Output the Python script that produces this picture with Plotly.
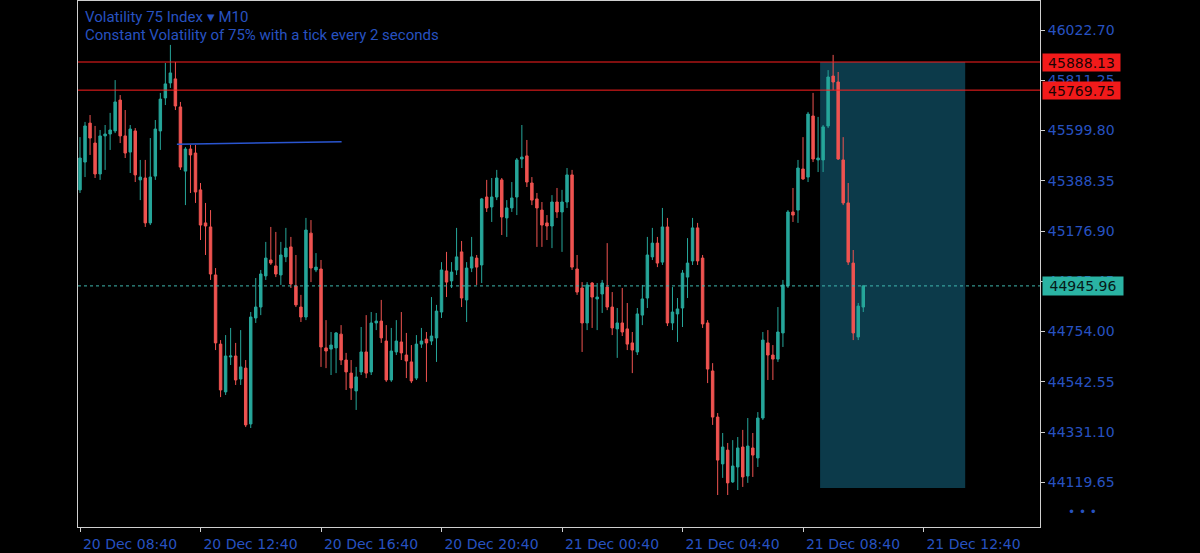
import pandas as pd
import plotly.graph_objects as go

START = "2023-12-20 08:40"

opens = [
    45350, 45467, 45631, 45547, 45417, 45577, 45585, 45598, 45728, 45577,
    45509, 45598, 45392, 45400, 45211, 45408, 45598, 45737, 45800, 45817,
    45699, 45429, 45522, 45505, 45350, 45211, 45194, 44992, 44701, 44500,
    44647, 44651, 44554, 44600, 44365, 44811, 44857, 44988, 45055, 45030,
    44992, 45068, 45110, 44946, 44857, 44815, 45168, 45013, 45017, 44685,
    44680, 44685, 44743, 44634, 44579, 44504, 44584, 44668, 44584, 44790,
    44798, 44714, 44550, 44668, 44710, 44655, 44626, 44558, 44701, 44722,
    44714, 44727, 44836, 45009, 44967, 45013, 45089, 44887, 45021, 45063,
    45034, 45320, 45278, 45320, 45392, 45232, 45274, 45320, 45480, 45493,
    45379, 45312, 45265, 45211, 45198, 45299, 45257, 45299, 45413, 45017,
    44937, 44790, 44958, 44891, 44912, 44941, 44857, 44765, 44790, 44765,
    44706, 44668, 44823, 44895, 45068, 45126, 45046, 45194, 44790, 44828,
    44853, 44983, 45051, 45190, 45063, 44790, 44588, 44394, 44197, 44255,
    44121, 44184, 44268, 44146, 44264, 44222, 44390, 44706, 44655, 44638,
    44748, 44946, 45257, 45265, 45438, 45404, 45661, 45476, 45476, 45619,
    45829, 45804, 45476, 45295, 45042, 44731, 44857,
]
closes = [
    45484, 45619, 45568, 45417, 45577, 45585, 45602, 45720, 45577, 45505,
    45606, 45413, 45404, 45211, 45404, 45606, 45732, 45796, 45842, 45703,
    45446, 45522, 45497, 45341, 45202, 45198, 44996, 44706, 44508, 44651,
    44651, 44550, 44605, 44361, 44815, 44857, 44996, 45063, 45042, 44996,
    45076, 45105, 44954, 44866, 44815, 45181, 45021, 45025, 44689, 44672,
    44697, 44748, 44634, 44584, 44516, 44563, 44668, 44579, 44790, 44798,
    44727, 44550, 44672, 44714, 44664, 44630, 44546, 44701, 44714, 44706,
    44735, 44840, 45013, 44962, 45004, 45068, 44895, 45021, 45068, 45025,
    45312, 45274, 45320, 45400, 45236, 45274, 45316, 45476, 45488, 45383,
    45307, 45274, 45202, 45198, 45299, 45257, 45299, 45413, 45025, 44920,
    44790, 44950, 44899, 44899, 44958, 44857, 44769, 44790, 44752, 44701,
    44676, 44828, 44891, 45076, 45126, 45042, 45194, 44790, 44836, 44849,
    45000, 45042, 45190, 45051, 44786, 44596, 44394, 44213, 44268, 44117,
    44188, 44264, 44142, 44272, 44234, 44390, 44718, 44655, 44638, 44752,
    44950, 45257, 45244, 45442, 45396, 45669, 45480, 45484, 45615, 45825,
    45804, 45480, 45295, 45046, 44748, 44861, 44945.96,
]
highs = [
    45572, 45636, 45665, 45619, 45602, 45623, 45674, 45812, 45749, 45686,
    45623, 45610, 45476, 45476, 45568, 45644, 45758, 45884, 45960, 45888,
    45720, 45530, 45539, 45539, 45379, 45295, 45265, 45021, 44718, 44739,
    44769, 44706, 44760, 44634, 44836, 44979, 45013, 45131, 45194, 45173,
    45131, 45190, 45152, 45076, 44908, 45232, 45223, 45084, 45055, 44802,
    44752, 44752, 44781, 44664, 44634, 44605, 44773, 44823, 44836, 44832,
    44887, 44781, 44769, 44802, 44836, 44748, 44697, 44739, 44769, 44752,
    44899, 44866, 45046, 45089, 45046, 45190, 45135, 45046, 45152, 45076,
    45316, 45392, 45400, 45434, 45400, 45307, 45383, 45484, 45623, 45560,
    45404, 45337, 45299, 45244, 45328, 45358, 45350, 45442, 45434, 45076,
    44962, 44962, 44962, 44958, 44971, 45126, 44920, 44853, 44937, 44874,
    44752, 44853, 44950, 45152, 45190, 45152, 45274, 45232, 44941, 44895,
    45013, 45147, 45232, 45211, 45076, 44802, 44621, 44411, 44327, 44285,
    44297, 44310, 44340, 44390, 44327, 44415, 44752, 44760, 44697, 44857,
    44971, 45265, 45358, 45476, 45572, 45678, 45758, 45657, 45623, 45854,
    45918, 45846, 45572, 45379, 45097, 44874, 44950,
]
lows = [
    45337, 45404, 45497, 45400, 45392, 45434, 45518, 45589, 45547, 45484,
    45421, 45383, 45307, 45194, 45202, 45392, 45518, 45707, 45779, 45686,
    45434, 45286, 45337, 45295, 45139, 45076, 44971, 44676, 44478, 44487,
    44613, 44529, 44529, 44352, 44348, 44790, 44823, 44971, 45034, 44983,
    44950, 45046, 44937, 44857, 44794, 44802, 44962, 45004, 44605, 44600,
    44571, 44579, 44613, 44508, 44466, 44424, 44571, 44558, 44571, 44760,
    44706, 44542, 44542, 44655, 44634, 44558, 44537, 44550, 44685, 44542,
    44697, 44626, 44811, 44899, 44937, 44992, 44857, 44794, 45004, 44950,
    44958, 45257, 45215, 45307, 45160, 45152, 45257, 45244, 45442, 45362,
    45286, 45110, 45110, 45139, 45105, 45232, 45089, 45274, 45013, 44908,
    44668, 44760, 44769, 44760, 44832, 44844, 44739, 44643, 44735, 44676,
    44579, 44655, 44781, 44853, 45055, 45025, 45034, 44777, 44760, 44710,
    44773, 44895, 45034, 45034, 44769, 44537, 44361, 44066, 44138, 44066,
    44117, 44087, 44100, 44117, 44142, 44184, 44382, 44550, 44550, 44626,
    44689, 44937, 45215, 45211, 45392, 45383, 45467, 45425, 45425, 45610,
    45770, 45476, 45286, 45034, 44718, 44718, 44836,
]

y_ticks = [46022.70, 45811.25, 45599.80, 45388.35, 45176.90,
           44965.45, 44754.00, 44542.55, 44331.10, 44119.65]
x_tick_labels = ["20 Dec 08:40", "20 Dec 12:40", "20 Dec 16:40", "20 Dec 20:40",
                 "21 Dec 00:40", "21 Dec 04:40", "21 Dec 08:40", "21 Dec 12:40"]

level_top = 45888.13
level_bottom = 45769.75
last_price = 44945.96

trend_x = ["2023-12-20 11:53", "2023-12-20 17:21"]
trend_y = [45542, 45553]
zone_x = ["2023-12-21 09:14", "2023-12-21 14:03"]
zone_y = [44095, 45888.13]

title_main = "Volatility 75 Index \u25be M10"
title_sub = "Constant Volatility of 75% with a tick every 2 seconds"

TEAL = "#26a69a"
RED = "#ef5350"
BLUE = "#2752c0"
LEVEL_RED = "#ff1f1f"
FRAME = "#cfcfcf"
FONT = "DejaVu Sans"

times = pd.date_range(START, periods=len(opens), freq="10min")
x_ticks = pd.date_range(START, periods=len(x_tick_labels), freq="4h")
t0 = pd.Timestamp(START)
x_range = [t0 - pd.Timedelta(minutes=4), t0 + pd.Timedelta(minutes=1912)]

fig = go.Figure(go.Candlestick(
    x=times, open=opens, high=highs, low=lows, close=closes,
    increasing=dict(line=dict(color=TEAL, width=1), fillcolor=TEAL),
    decreasing=dict(line=dict(color=RED, width=1), fillcolor=RED),
    whiskerwidth=0, showlegend=False, hoverinfo="skip",
))

shapes = [
    dict(type="rect", xref="x", yref="y", x0=zone_x[0], x1=zone_x[1],
         y0=zone_y[0], y1=zone_y[1], fillcolor="#0c3a4a", line=dict(width=0),
         layer="below"),
    dict(type="line", xref="paper", yref="y", x0=0, x1=1, y0=level_top, y1=level_top,
         line=dict(color=LEVEL_RED, width=1)),
    dict(type="line", xref="paper", yref="y", x0=0, x1=1, y0=level_bottom, y1=level_bottom,
         line=dict(color=LEVEL_RED, width=1)),
    dict(type="line", xref="paper", yref="y", x0=0, x1=1, y0=last_price, y1=last_price,
         line=dict(color="#3fb7ae", width=1, dash="3px,3px")),
    dict(type="line", xref="x", yref="y", x0=trend_x[0], x1=trend_x[1],
         y0=trend_y[0], y1=trend_y[1], line=dict(color="#2a55d0", width=1.5)),
]

annotations = [
    dict(xref="paper", yref="paper", x=0, y=1, xanchor="left", yanchor="top",
         xshift=5, yshift=-5, text=title_main, showarrow=False,
         font=dict(family="Roboto", size=15, color=BLUE)),
    dict(xref="paper", yref="paper", x=0, y=1, xanchor="left", yanchor="top",
         xshift=5, yshift=-23, text=title_sub, showarrow=False,
         font=dict(family="Roboto", size=15, color=BLUE)),
    dict(xref="paper", yref="y", x=1, y=level_top, xanchor="left", yanchor="middle",
         xshift=2, text=f"{level_top:.2f}", showarrow=False, bgcolor="#f21a1a",
         width=77, height=17, borderpad=0,
         font=dict(family=FONT, size=14, color="#1a0404")),
    dict(xref="paper", yref="y", x=1, y=level_bottom, xanchor="left", yanchor="middle",
         xshift=2, text=f"{level_bottom:.2f}", showarrow=False, bgcolor="#f21a1a",
         width=77, height=17, borderpad=0,
         font=dict(family=FONT, size=14, color="#1a0404")),
    dict(xref="paper", yref="y", x=1, y=last_price, xanchor="left", yanchor="middle",
         xshift=2, text=f"{last_price:.2f}", showarrow=False, bgcolor="#2ab3a3",
         width=80, height=18, borderpad=0,
         font=dict(family=FONT, size=14, color="#061a18")),
    dict(xref="paper", yref="paper", x=1, y=0, xanchor="center", yanchor="middle",
         xshift=42, yshift=15, text="\u2022 \u2022 \u2022", showarrow=False,
         font=dict(family=FONT, size=12, color=BLUE)),
]

fig.update_layout(
    width=1200, height=553,
    paper_bgcolor="#000000", plot_bgcolor="#000000",
    margin=dict(l=78, r=160, t=1, b=26),
    shapes=shapes, annotations=annotations,
    showlegend=False,
    xaxis=dict(
        type="date", range=x_range, rangeslider=dict(visible=False),
        showgrid=False, zeroline=False,
        tickvals=x_ticks, ticktext=x_tick_labels,
        ticks="outside", ticklen=4, tickcolor=FRAME,
        showline=True, linecolor=FRAME, linewidth=1, mirror=True,
        tickfont=dict(family=FONT, size=14, color=BLUE),
        ticklabelshift=50, automargin=False,
    ),
    yaxis=dict(
        side="right", range=[43931.4, 46144.8],
        showgrid=False, zeroline=False,
        tickvals=y_ticks, ticktext=[f"{v:.2f}" for v in y_ticks],
        ticks="outside", ticklen=4, tickcolor=FRAME,
        showline=True, linecolor=FRAME, linewidth=1, mirror=True,
        tickfont=dict(family=FONT, size=14, color=BLUE),
        automargin=False,
    ),
)

fig.write_html(
    "out.html",
    config={"displayModeBar": False},
    post_script="document.body.style.margin='0';document.body.style.overflow='hidden';",
)
